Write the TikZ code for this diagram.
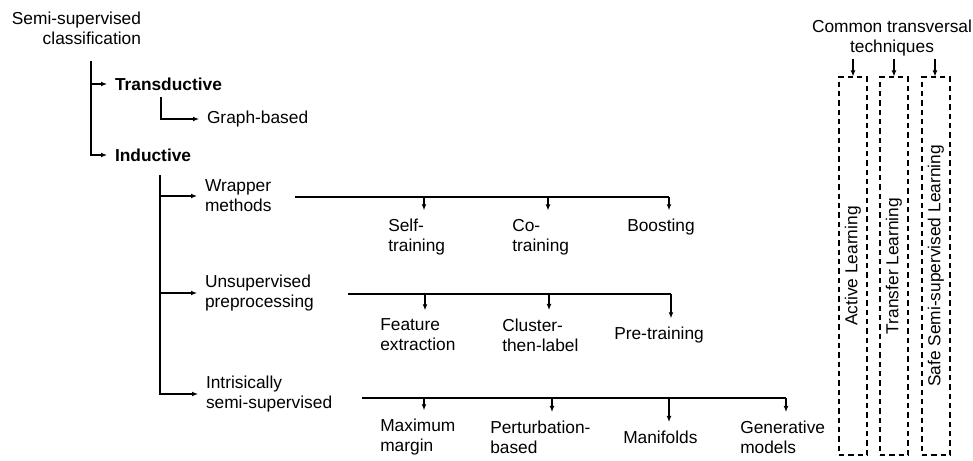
\documentclass[tikz,border=0pt]{standalone}
\usepackage{fontspec}
\setmainfont{Liberation Sans}
\usetikzlibrary{arrows.meta}
\begin{document}
\begin{tikzpicture}[x=0.75pt,y=-0.75pt,
  txt/.style={inner sep=0pt, outer xsep=6pt, anchor=west, align=left, font=\fontsize{13}{15}\selectfont},
  txtb/.style={txt, font=\fontsize{13}{15}\selectfont\bfseries},
  child/.style={inner sep=0pt, outer ysep=6.5pt, anchor=west, align=left, font=\fontsize{13}{15}\selectfont},
  arr/.style={line width=0.8pt, -{Latex[length=4.5pt,width=3.6pt]}},
  bar/.style={line width=1.4pt},
  tbox/.style={draw, dash pattern=on 4pt off 3pt, line width=0.8pt, minimum width=21pt, minimum height=283.5pt, inner sep=0pt},
  vtxt/.style={rotate=90, inner sep=0pt, font=\fontsize{13}{15}\selectfont}
]
\useasboundingbox (0,0) rectangle (973,460);

% left tree
\node[txt, anchor=east, align=right, outer xsep=0pt] (root) at (141,28) {Semi-supervised\\classification};
\node[txtb] (trans) at (107,84) {Transductive};
\node[txt] (graph) at (199,119) {Graph-based};
\node[txtb] (ind) at (107,155) {Inductive};
\node[txt] (wrap) at (197,196) {Wrapper\\methods};
\node[txt] (unsup) at (197,293) {Unsupervised\\preprocessing};
\node[txt] (intr) at (198,394) {Intrisically\\semi-supervised};

\coordinate (r0) at (91,61);
\coordinate (t0) at (161,97);
\coordinate (i0) at (160,175);
\draw[arr] (r0) |- (trans.west);
\draw[arr] (r0) |- (ind.west);
\draw[arr] (t0) |- (graph.west);
\draw[arr] (i0) |- (wrap.west);
\draw[arr] (i0) |- (unsup.west);
\draw[arr] (i0) |- (intr.west);

% wrapper children
\node[child] (self) at (388,237) {Self-\\training};
\node[child] (co) at (512,237) {Co-\\training};
\node[child] (boost) at (627,227) {Boosting};
\coordinate (wb0) at (295,197);
\coordinate (w1) at (424,197);
\coordinate (w2) at (548,197);
\coordinate (w3) at (669,197);
\draw[bar] (wb0) -- (w3);
\draw[arr] (w1) -- (w1 |- self.north);
\draw[arr] (w2) -- (w2 |- co.north);
\draw[arr] (w3) -- (w3 |- boost.north);

% unsupervised children
\node[child] (feat) at (380,335) {Feature\\extraction};
\node[child] (clus) at (502,335) {Cluster-\\then-label};
\node[child] (pre) at (614,335) {Pre-training};
\coordinate (ub0) at (348,294);
\coordinate (u1) at (425,294);
\coordinate (u2) at (549,294);
\coordinate (u3) at (671,294);
\draw[bar] (ub0) -- (u3);
\draw[arr] (u1) -- (u1 |- feat.north);
\draw[arr] (u2) -- (u2 |- clus.north);
\draw[arr] (u3) -- (u3 |- pre.north);

% intrinsic children
\node[child] (maxm) at (380,437) {Maximum\\margin};
\node[child] (pert) at (490,437) {Perturbation-\\based};
\node[child] (mani) at (623,437) {Manifolds};
\node[child] (gen) at (740,437) {Generative\\models};
\coordinate (nb0) at (362,398);
\coordinate (n1) at (424,398);
\coordinate (n2) at (552,398);
\coordinate (n3) at (669,398);
\coordinate (n4) at (786,398);
\draw[bar] (nb0) -- (n4);
\draw[arr] (n1) -- (n1 |- maxm.north);
\draw[arr] (n2) -- (n2 |- pert.north);
\draw[arr] (n3) -- (n3 |- mani.north);
\draw[arr] (n4) -- (n4 |- gen.north);

% right side
\node[inner sep=0pt, align=center, font=\fontsize{13}{15}\selectfont] (common) at (892,38) {Common transversal\\techniques};
\node[tbox] (al) at (853,266) {};
\node[tbox] (tl) at (894,266) {};
\node[tbox] (sl) at (936,266) {};
\node[vtxt] (alt) at (al.center) {Active Learning};
\node[vtxt] (tlt) at (tl.center) {Transfer Learning};
\node[vtxt] (slt) at (sl.center) {Safe Semi-supervised Learning};
\coordinate (c1) at (853,59);
\coordinate (c2) at (894,59);
\coordinate (c3) at (935,59);
\draw[arr] (c1) -- (al.north);
\draw[arr] (c2) -- (tl.north);
\draw[arr] (c3) -- (c3 |- sl.north);
\end{tikzpicture}
\end{document}
